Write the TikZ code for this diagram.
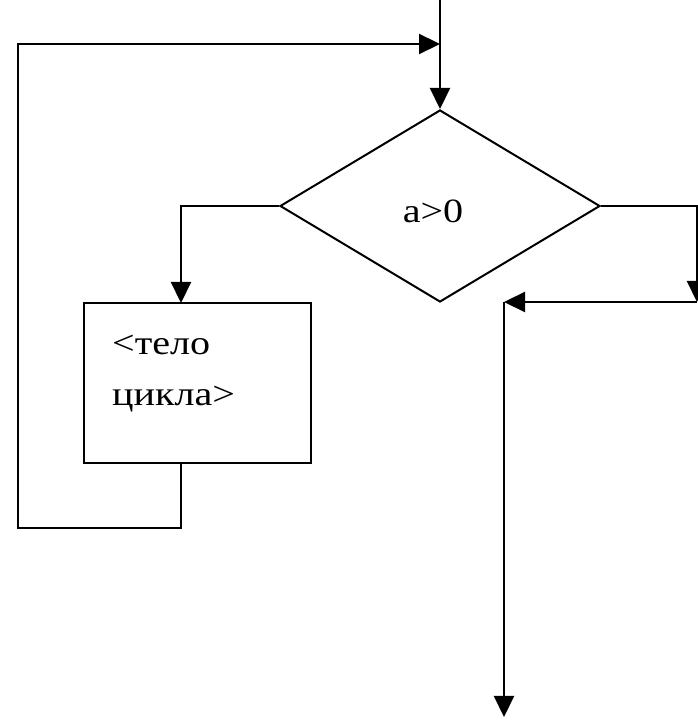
\documentclass[tikz,border=0pt]{standalone}
\usepackage{fontspec}
\setmainfont{Liberation Serif}
\usetikzlibrary{shapes.geometric,arrows.meta}
\begin{document}
\begin{tikzpicture}[x=1pt,y=1pt,
  line/.style={draw=black,line width=2.2pt},
  arr/.style={line,-{Triangle[width=20pt,length=21pt]}},
  decision/.style={shape=diamond,draw=black,line width=2pt,minimum width=320pt,minimum height=192pt,inner sep=0pt},
  process/.style={shape=rectangle,draw=black,line width=2.2pt,minimum width=227pt,minimum height=160pt,inner sep=0pt},
  lbl/.style={inner sep=0pt,font=\fontsize{34}{40}\selectfont}
]
\useasboundingbox (0,0) rectangle (697,721);
\node[decision] (cond) at (440,515) {};
\node[lbl,anchor=base] (condtext) at (433,498) {\scalebox{1.18}[1]{a>0}};
\node[process] (body) at (197.5,338) {};
\node[lbl,anchor=base west] (t1) at (112,366) {\scalebox{1.18}[1]{<тело}};
\node[lbl,anchor=base west] (t2) at (112,315) {\scalebox{1.18}[1]{цикла>}};
\coordinate (entry) at (440,722);
\coordinate (join) at (440,677);
\coordinate (ltop) at (181,515);
\coordinate (bodytop) at (181,418);
\coordinate (bodybot) at (181,258);
\coordinate (lb) at (181,193);
\coordinate (lbl2) at (18,193);
\coordinate (ltl) at (18,677);
\coordinate (rt) at (697,515);
\coordinate (rb) at (697,419);
\coordinate (exitc) at (504,419);
\coordinate (exitend) at (504,4);
\draw[arr] (entry) -- (cond.north);
\draw[arr] (cond.west) -- (ltop) -- (bodytop);
\draw[arr] (bodybot) -- (lb) -- (lbl2) -- (ltl) -- (join);
\draw[arr] (cond.east) -- (rt) -- (rb);
\draw[arr] (rb) -- (exitc);
\draw[arr] (exitc) -- (exitend);
\end{tikzpicture}
\end{document}
